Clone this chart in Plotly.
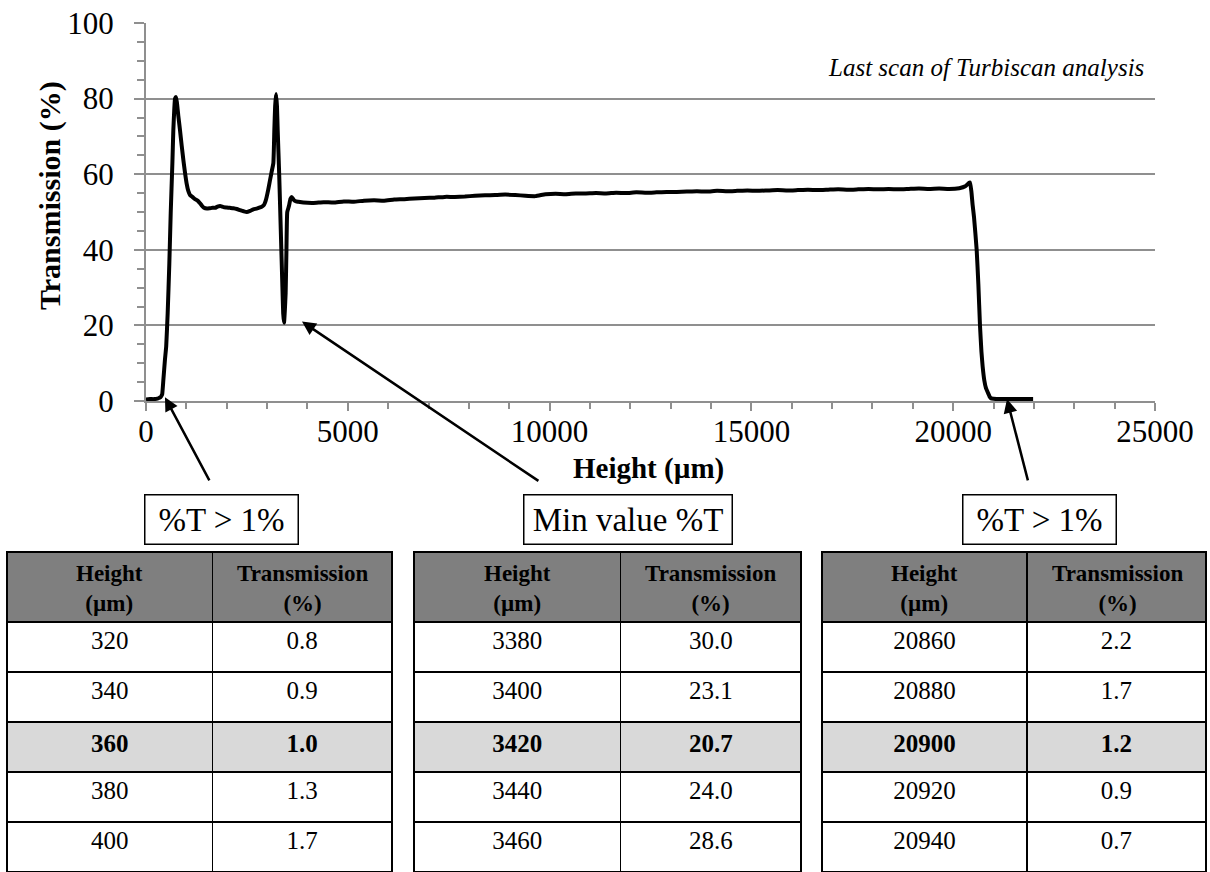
import plotly.graph_objects as go

# Last Turbiscan scan: transmission profile along the sample height
height_um = [
    0, 100, 200, 300, 320, 340, 360, 380, 400, 430, 470, 500, 537, 578, 612, 653,
    677, 700, 719, 743, 765, 800, 842, 885, 925, 965, 1006, 1050, 1090, 1150, 1214,
    1280, 1338, 1390, 1437, 1510, 1586, 1650, 1710, 1770, 1834, 1920, 2000, 2080,
    2165, 2250, 2330, 2420, 2495, 2580, 2660, 2740, 2825, 2880, 2924, 2960, 2990,
    3030, 3072, 3110, 3155, 3180, 3200, 3222, 3245, 3263, 3300, 3340, 3380, 3400,
    3420, 3440, 3460, 3480, 3500, 3540, 3580, 3610, 3660, 3720, 3775, 3900, 4150,
    4400, 4650, 4900, 5150, 5400, 5650, 5900, 6150, 6400, 6650, 6900, 7150, 7400,
    7650, 7900, 8150, 8400, 8650, 8900, 9150, 9400, 9650, 9900, 10150, 10400, 10650,
    10900, 11150, 11400, 11650, 11900, 12150, 12400, 12650, 12900, 13150, 13400,
    13650, 13900, 14150, 14400, 14650, 14900, 15150, 15400, 15650, 15900, 16150,
    16400, 16650, 16900, 17150, 17400, 17650, 17900, 18150, 18400, 18650, 18900,
    19150, 19400, 19650, 19900, 20150, 20300, 20380, 20416, 20450, 20480, 20515,
    20582, 20623, 20664, 20700, 20730, 20770, 20812, 20840, 20860, 20880, 20900,
    20920, 20940, 21000, 21200, 21500, 21800, 21980,
]
transmission_pct = [
    0.4, 0.5, 0.5, 0.7, 0.8, 0.9, 1.0, 1.3, 1.7, 5.5, 11.0, 14.4, 23.2, 36.4, 49.6, 62.8,
    71.6, 77.0, 80.0, 80.4, 79.0, 75.5, 71.7, 67.5, 63.8, 60.5, 57.6, 55.5, 54.5, 54.0, 53.4,
    53.0, 52.3, 51.6, 51.1, 50.9, 51.0, 51.1, 51.1, 51.4, 51.6, 51.3, 51.2, 51.1,
    51.0, 50.8, 50.5, 50.2, 50.0, 50.3, 50.7, 50.9, 51.2, 51.5, 51.9, 52.8, 54.0,
    56.0, 58.4, 60.5, 62.9, 71.7, 78.0, 81.2, 78.0, 71.7, 60.0, 45.0, 30.0, 23.1,
    20.7, 24.0, 28.6, 40.0, 50.0, 51.5, 53.5, 54.0, 53.2, 52.8, 52.7, 52.5, 52.4,
    52.6, 52.5, 52.8, 52.7, 53.0, 53.1, 53.0, 53.3, 53.4, 53.6, 53.7, 53.8, 54.0,
    54.0, 54.1, 54.3, 54.4, 54.5, 54.6, 54.5, 54.3, 54.2, 54.7, 54.8, 54.7, 54.9,
    54.9, 55.0, 54.9, 55.1, 55.0, 55.2, 55.1, 55.2, 55.3, 55.3, 55.4,
    55.5, 55.4, 55.6, 55.5, 55.6, 55.7, 55.6, 55.7, 55.8, 55.7, 55.8,
    55.9, 55.8, 55.9, 56.0, 55.9, 56.0, 56.1, 56.0, 56.1, 56.0, 56.1,
    56.2, 56.1, 56.2, 56.1, 56.3, 56.8, 57.6, 57.8, 55.5, 52.0, 48.7,
    39.9, 31.0, 19.9, 13.0, 9.1, 5.5, 3.4, 2.7, 2.2, 1.7, 1.2,
    0.9, 0.7, 0.6, 0.5, 0.5, 0.5, 0.5,
]

# Tables of values around each marked point
table_headers = ["Height<br>(µm)", "Transmission<br>(%)"]
onset_height = ["320", "340", "360", "380", "400"]
onset_trans = [0.8, 0.9, 1.0, 1.3, 1.7]
min_height = ["3380", "3400", "3420", "3440", "3460"]
min_trans = [30.0, 23.1, 20.7, 24.0, 28.6]
end_height = ["20860", "20880", "20900", "20920", "20940"]
end_trans = [2.2, 1.7, 1.2, 0.9, 0.7]
highlight_row = 2

box_labels = ["%T > 1%", "Min value %T", "%T > 1%"]
chart_note = "Last scan of Turbiscan analysis"
x_title = "Height (µm)"
y_title = "Transmission (%)"
x_ticks = [0, 5000, 10000, 15000, 20000, 25000]
y_ticks = [0, 20, 40, 60, 80, 100]

W, H = 1210, 872
SERIF = "Liberation Serif, Times New Roman, serif"
GRID = "#8f8f8f"


def px_x(p):
    return p / W


def px_y(p):
    return 1 - p / H


fig = go.Figure()

fig.add_trace(go.Scatter(
    x=height_um, y=transmission_pct, mode="lines",
    line=dict(color="black", width=4, shape="spline", smoothing=0.4),
    showlegend=False, hoverinfo="x+y",
))

annotations = []

# Value tables below the chart
table_x = [(7, 392), (414, 801), (822, 1207)]
col_w = [206, 180]
table_data = [(onset_height, onset_trans), (min_height, min_trans), (end_height, end_trans)]
for (x0, x1), (hs, ts) in zip(table_x, table_data):
    col_h = [f"<b>{h}</b>" if i == highlight_row else h for i, h in enumerate(hs)]
    col_t = [f"<b>{t:.1f}</b>" if i == highlight_row else f"{t:.1f}" for i, t in enumerate(ts)]
    fills = ["#d9d9d9" if i == highlight_row else "white" for i in range(len(hs))]
    fig.add_trace(go.Table(
        domain=dict(x=[px_x(x0), px_x(x1)], y=[0, px_y(552)]),
        columnwidth=col_w,
        header=dict(
            values=["", ""],
            fill_color="#7f7f7f", line=dict(color="black", width=1.5),
            align="center", height=70,
            font=dict(family=SERIF, size=23, color="black"),
        ),
        cells=dict(
            values=[col_h, col_t],
            fill_color=[fills, fills], line=dict(color="black", width=1.5),
            align="center", height=50,
            font=dict(family=SERIF, size=25, color="black"),
        ),
    ))
    # centred two-line header captions
    scale = (x1 - x0) / sum(col_w)
    centers = [x0 + col_w[0] * scale / 2, x0 + (col_w[0] + col_w[1] / 2) * scale]
    for cx, label in zip(centers, table_headers):
        annotations.append(dict(
            text=f"<b>{label}</b>", xref="paper", yref="paper",
            x=px_x(cx), y=px_y(588), xanchor="center", yanchor="middle",
            align="center", showarrow=False,
            font=dict(family=SERIF, size=23, color="black"),
        ))

# Axis titles and note
annotations.append(dict(
    text=f"<b>{x_title}</b>", xref="paper", yref="paper",
    x=px_x(648), y=px_y(468), xanchor="center", yanchor="middle", showarrow=False,
    font=dict(family=SERIF, size=29, color="black"),
))
annotations.append(dict(
    text=f"<b>{y_title}</b>", xref="paper", yref="paper", textangle=-90,
    x=px_x(50), y=px_y(196), xanchor="center", yanchor="middle", showarrow=False,
    font=dict(family=SERIF, size=30, color="black"),
))
annotations.append(dict(
    text=f"<i>{chart_note}</i>", xref="paper", yref="paper",
    x=px_x(1146), y=px_y(68), xanchor="right", yanchor="middle", showarrow=False,
    font=dict(family=SERIF, size=25, color="black"),
))

# Boxed labels above the tables
box_geom = [(221.5, 155), (628, 210), (1039.5, 155)]
for label, (cx, bw) in zip(box_labels, box_geom):
    annotations.append(dict(
        text=label, xref="paper", yref="paper",
        x=px_x(cx), y=px_y(519.5), xanchor="center", yanchor="middle",
        showarrow=False, width=bw - 3, height=48, borderpad=0,
        bordercolor="black", borderwidth=1.5, bgcolor="white",
        font=dict(family=SERIF, size=33, color="black"),
    ))

# Arrows from the boxes to the marked points on the curve
arrow_heads = [(470, 1.0), (3865, 21.0), (21333, 0.5)]
arrow_tails = [(1590, -21.4), (9760, -21.4), (21860, -21.4)]
for (hx, hy), (tx, ty) in zip(arrow_heads, arrow_tails):
    annotations.append(dict(
        x=hx, y=hy, ax=tx, ay=ty, xref="x", yref="y", axref="x", ayref="y",
        text="", showarrow=True, arrowhead=2, arrowsize=1.1, arrowwidth=2.5,
        arrowcolor="black",
    ))

fig.update_layout(
    width=W, height=H,
    margin=dict(l=0, r=0, t=0, b=0, autoexpand=False),
    paper_bgcolor="white", plot_bgcolor="white",
    annotations=annotations,
    showlegend=False,
    xaxis=dict(
        domain=[px_x(146), px_x(1155)], range=[0, 25000],
        tickvals=x_ticks, tickformat="d", automargin=False,
        ticks="outside", ticklen=8, tickwidth=2, tickcolor=GRID,
        minor=dict(dtick=1000, ticks="outside", ticklen=6, tickwidth=2, tickcolor=GRID),
        showgrid=False, zeroline=False,
        showline=True, linecolor=GRID, linewidth=2,
        tickfont=dict(family=SERIF, size=31, color="black"),
        ticklabelstandoff=-6,
    ),
    yaxis=dict(
        domain=[px_y(401), px_y(23)], range=[0, 100],
        tickvals=y_ticks, automargin=False,
        ticks="outside", ticklen=10, tickwidth=2, tickcolor=GRID,
        minor=dict(dtick=5, ticks="outside", ticklen=7, tickwidth=2, tickcolor=GRID),
        showgrid=True, gridcolor=GRID, gridwidth=2, zeroline=False,
        showline=True, linecolor=GRID, linewidth=2,
        tickfont=dict(family=SERIF, size=31, color="black"),
        ticklabelstandoff=14,
    ),
)

fig.write_html("out.html")
